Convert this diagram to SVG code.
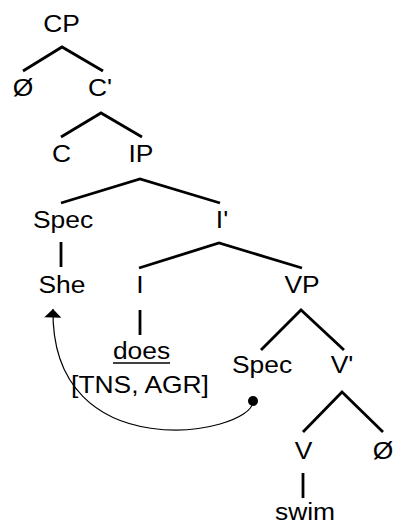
<svg xmlns="http://www.w3.org/2000/svg" width="393" height="525" viewBox="0 0 393 525">
  <style>
    .lbl { font-family: "Liberation Sans", Arial, sans-serif; font-size: 24px; fill: #000; text-anchor: middle; }
    .branch { fill: none; stroke: #000; stroke-width: 2.8; stroke-linecap: butt; stroke-linejoin: miter; }
    .move { fill: none; stroke: #000; stroke-width: 1.2; }
  </style>
  <defs>
    <marker id="arrow" markerUnits="userSpaceOnUse" markerWidth="12" markerHeight="20" viewBox="0 -10 10 20" refX="8.5" refY="0" orient="auto">
      <path d="M0,-8.5 L8.5,0 L0,8.5 z" fill="#000"/>
    </marker>
  </defs>
  <rect width="393" height="525" fill="#fff"/>

  <!-- tree branches and movement arrow -->
  <g id="connectors">
    <polyline class="branch" points="23,71 62,47 103,71"/>
    <polyline class="branch" points="61,137 101,113 142,137"/>
    <polyline class="branch" points="61,203 140,179 220,203"/>
    <line class="branch" x1="61" y1="242" x2="61" y2="267"/>
    <polyline class="branch" points="139,268 219,243 302,268"/>
    <line class="branch" x1="140" y1="310" x2="140" y2="335"/>
    <polyline class="branch" points="261,350 301,310 344,350"/>
    <polyline class="branch" points="303,432 342,392 383,432"/>
    <line class="branch" x1="303" y1="473" x2="303" y2="498"/>
    <path class="move" d="M253,402 C250,435 50,470 53,309" marker-end="url(#arrow)"/>
    <circle cx="253" cy="401" r="5" fill="#000"/>
  </g>

  <g id="cp"><text class="lbl" transform="translate(61.5,32) scale(1.1,1)">CP</text></g>
  <g id="null-c"><text class="lbl" transform="translate(23,96) scale(1.1,1)">Ø</text></g>
  <g id="c-bar"><text class="lbl" transform="translate(100,96) scale(1.1,1)">C'</text></g>
  <g id="c"><text class="lbl" transform="translate(61.5,162) scale(1.1,1)">C</text></g>
  <g id="ip"><text class="lbl" transform="translate(141,162) scale(1.1,1)">IP</text></g>
  <g id="spec-ip"><text class="lbl" transform="translate(63,228) scale(1.1,1)">Spec</text></g>
  <g id="i-bar"><text class="lbl" transform="translate(222,228) scale(1.1,1)">I'</text></g>
  <g id="she"><text class="lbl" transform="translate(62,293) scale(1.1,1)">She</text></g>
  <g id="i"><text class="lbl" transform="translate(140,293) scale(1.1,1)">I</text></g>
  <g id="vp"><text class="lbl" transform="translate(302,293) scale(1.1,1)">VP</text></g>
  <g id="does">
    <text class="lbl" transform="translate(141.5,359) scale(1.1,1)">does</text>
    <line x1="113" y1="363" x2="170" y2="363" stroke="#000" stroke-width="1.6"/>
  </g>
  <g id="features"><text class="lbl" transform="translate(140,393) scale(1.1,1)">[TNS, AGR]</text></g>
  <g id="spec-vp"><text class="lbl" transform="translate(262,373) scale(1.1,1)">Spec</text></g>
  <g id="v-bar"><text class="lbl" transform="translate(342,373) scale(1.1,1)">V'</text></g>
  <g id="v"><text class="lbl" transform="translate(303.5,459) scale(1.1,1)">V</text></g>
  <g id="null-obj"><text class="lbl" transform="translate(383,459) scale(1.1,1)">Ø</text></g>
  <g id="swim"><text class="lbl" transform="translate(305,520) scale(1.1,1)">swim</text></g>
</svg>
